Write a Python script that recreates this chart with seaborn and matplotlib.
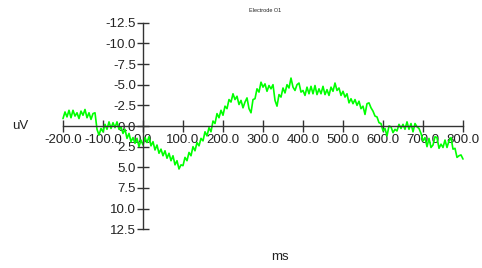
import numpy as np
import pandas as pd
import matplotlib
matplotlib.use("Agg")
import matplotlib.pyplot as plt
import seaborn as sns

# ERP trace, Electrode O1 (uV, every 5 ms)
times = np.arange(-200, 805, 5)
uv = [
    # -200 .. -105
    -0.9, -1.7, -1.1, -1.9, -1.0, -1.9, -1.2, -1.6, -0.9, -1.8,
    -1.3, -2.0, -1.0, -1.6, -0.8, -1.5, -1.6, 0.4, 1.1, 0.3,
    # -100 .. -5
    0.7, -0.2, 0.4, -0.5, 0.3, -0.4, 0.2, -0.5, 0.4, 0.1,
    0.9, 0.4, 1.5, 0.9, 1.9, 1.4, 2.1, 1.5, 2.5, 1.7,
    # 0 .. 95
    2.3, 1.4, 2.0, 1.3, 2.4, 1.9, 2.9, 2.3, 3.3, 2.8,
    3.6, 3.0, 3.9, 3.3, 4.2, 3.6, 4.7, 4.2, 5.2, 4.7,
    # 100 .. 195
    4.8, 3.8, 4.2, 3.2, 3.6, 2.5, 3.0, 2.0, 2.4, 1.5,
    1.8, 0.7, 1.2, 0.2, 0.7, -0.6, -0.3, -1.5, -1.0, -1.9,
    # 200 .. 295
    -1.3, -2.4, -2.1, -3.2, -2.9, -3.9, -3.2, -3.6, -2.6, -3.1,
    -2.2, -2.9, -3.4, -2.1, -1.6, -3.2, -3.3, -4.5, -4.1, -5.3,
    # 300 .. 395
    -4.7, -5.1, -4.2, -4.9, -4.5, -5.0, -3.1, -2.4, -3.8, -3.5,
    -4.6, -4.0, -5.0, -4.6, -5.8, -4.7, -4.3, -5.0, -5.2, -4.1,
    # 400 .. 495
    -4.3, -3.7, -4.7, -3.9, -4.8, -3.9, -4.9, -3.8, -4.5, -3.9,
    -4.8, -3.8, -4.4, -3.7, -4.7, -4.2, -5.2, -4.3, -4.6, -3.7,
    # 500 .. 595
    -4.2, -3.5, -3.9, -2.8, -3.3, -2.7, -3.2, -2.5, -3.0, -2.1,
    -2.4, -1.4, -2.7, -2.8, -2.2, -1.8, -1.2, -1.1, -0.4, -0.3,
    # 600 .. 695
    0.6, 0.3, 1.2, 0.0, 0.1, 0.8, 0.4, 0.6, -0.2, 0.3,
    -0.2, 0.4, -0.5, 0.4, -0.3, 0.7, -0.3, 0.1, 0.3, 0.9,
    # 700 .. 795
    1.8, 1.4, 2.5, 1.5, 2.6, 2.3, 1.3, 1.4, 2.7, 2.2,
    2.6, 1.7, 2.6, 1.8, 1.4, 2.8, 2.7, 3.8, 3.6, 3.5,
    # 800
    4.0,
]
x_ticks = [-200, -100, 0, 100, 200, 300, 400, 500, 600, 700, 800]
y_ticks = [-12.5, -10.0, -7.5, -5.0, -2.5, 0.0, 2.5, 5.0, 7.5, 10.0, 12.5]

df = pd.DataFrame({"ms": times, "uV": uv})

sns.set_style("white")
plt.rcParams["font.family"] = ["Liberation Sans", "DejaVu Sans"]

fig = plt.figure(figsize=(4.82, 2.68), dpi=100)
ax = fig.add_axes([63 / 482, 1 - 229.3 / 268, 400 / 482, 206.6 / 268])

sns.lineplot(data=df, x="ms", y="uV", ax=ax, color="#00ff00", linewidth=1.2,
             clip_on=False)

ax.set_xlim(-200, 800)
ax.set_ylim(12.5, -12.5)  # negative up

for side in ["top", "right"]:
    ax.spines[side].set_visible(False)
ax.spines["left"].set_position(("data", 0))
ax.spines["bottom"].set_position(("data", 0))
for side in ["left", "bottom"]:
    ax.spines[side].set_color("#333333")
    ax.spines[side].set_linewidth(1.0)

ax.set_xticks(x_ticks)
ax.set_yticks(y_ticks)
ax.set_xticklabels([f"{t:.1f}" for t in x_ticks])
ax.set_yticklabels([f"{t:.1f}" for t in y_ticks])
ax.tick_params(axis="both", direction="inout", length=9, width=1.0,
               color="#333333", labelsize=9.5, labelcolor="#222222",
               bottom=True, left=True)
ax.tick_params(axis="x", pad=1)
ax.tick_params(axis="y", pad=0.5)
ax.set_xlabel("")
ax.set_ylabel("")

fig.text(20 / 482, 1 - 126 / 268, "uV", ha="center", va="center",
         fontsize=9.5, color="#222222")
fig.text(280 / 482, 1 - 257 / 268, "ms", ha="center", va="center",
         fontsize=9.5, color="#222222")
fig.text(265 / 482, 1 - 11 / 268, "Electrode O1", ha="center", va="center",
         fontsize=4, color="#222222")

fig.savefig("out.png", dpi=100)
plt.close(fig)
